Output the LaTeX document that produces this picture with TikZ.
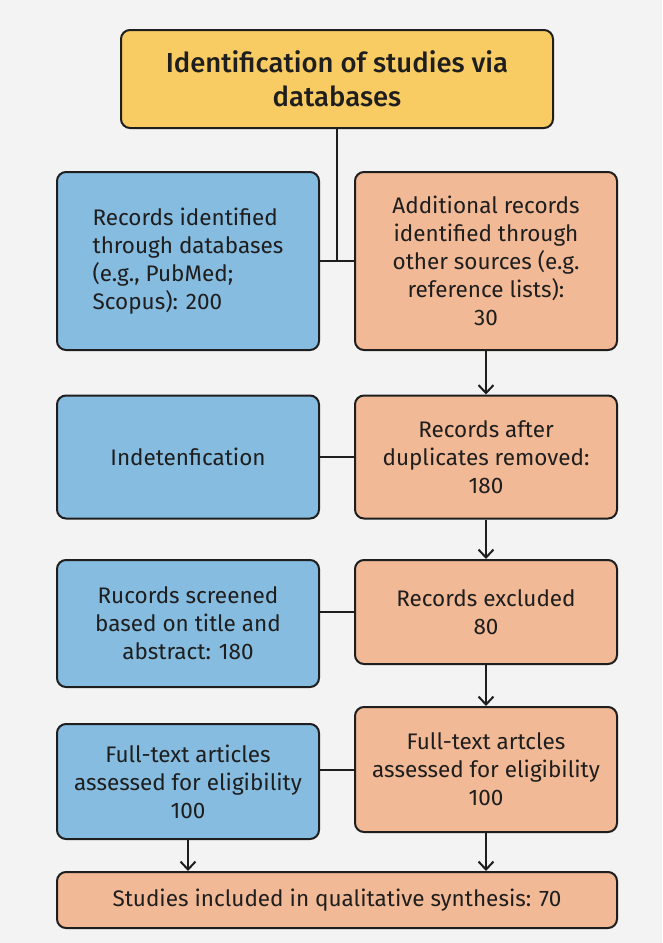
\documentclass[tikz,border=0pt]{standalone}
\usepackage{fontspec}
\setmainfont{Fira Sans}[BoldFont={Fira Sans Medium}]
\usetikzlibrary{arrows.meta}
\definecolor{bgc}{HTML}{F3F3F3}
\definecolor{ylw}{HTML}{F8CC62}
\definecolor{blu}{HTML}{86BCE0}
\definecolor{org}{HTML}{F2B996}
\definecolor{ink}{HTML}{1E1E1E}
\tikzset{
  x=1pt, y=-1pt,
  boxbase/.style={draw=ink, line width=2pt, rounded corners=9pt, text=ink,
    align=center, inner sep=4pt, font=\fontsize{22.5}{28}\selectfont},
  bluebox/.style={boxbase, fill=blu, minimum width=262pt},
  orgbox/.style={boxbase, fill=org, minimum width=262pt},
  titlebox/.style={boxbase, fill=ylw, minimum width=432pt, minimum height=98pt,
    font=\bfseries\fontsize{27.5}{34}\selectfont},
  link/.style={draw=ink, line width=2pt},
  arr/.style={link, -{Straight Barb[length=8pt,width=15pt,line width=2pt]}}
}
\begin{document}
\begin{tikzpicture}
\fill[bgc] (0,0) rectangle (662,943);
\useasboundingbox (0,0) rectangle (662,943);
\node[titlebox] (title) at (337,79) {Identification of studies via\\databases};
\node[bluebox, minimum height=178pt, align=left] (b1) at (188,261) {Records identified\\through databases\\(e.g., PubMed;\\Scopus): 200};
\node[orgbox, minimum height=178pt] (o1) at (486,261) {Additional records\\identified through\\other sources (e.g.\\reference lists):\\30};
\node[bluebox, minimum height=123pt] (b2) at (188,457) {Indetenfication};
\node[orgbox, minimum height=123pt] (o2) at (486,457) {Records after\\duplicates removed:\\180};
\node[bluebox, minimum height=127pt] (b3) at (188,623.5) {Rucords screened\\based on title and\\abstract: 180};
\node[orgbox, minimum height=104pt] (o3) at (486,612) {Records excluded\\80};
\node[bluebox, minimum height=115pt] (b4) at (188,781.5) {Full-text articles\\assessed for eligibility\\100};
\node[orgbox, minimum height=125pt] (o4) at (486,769.5) {Full-text artcles\\assessed for eligibility\\100};
\node[boxbase, fill=org, minimum width=560pt, minimum height=56pt] (fin) at (337,900) {Studies included in qualitative synthesis: 70};
\draw[link] (title.south) -- (title.south |- b1.east);
\draw[link] (b1.east) -- (o1.west);
\draw[link] (b2.east) -- (o2.west);
\draw[link] (b3.east |- o3.west) -- (o3.west);
\draw[link] (b4.east |- o4.west) -- (o4.west);
\draw[arr] (o1.south) -- (o2.north);
\draw[arr] (o2.south) -- (o3.north);
\draw[arr] (o3.south) -- (o4.north);
\draw[arr] (b4.south) -- (b4.south |- fin.north);
\draw[arr] (o4.south) -- (o4.south |- fin.north);
\end{tikzpicture}
\end{document}
